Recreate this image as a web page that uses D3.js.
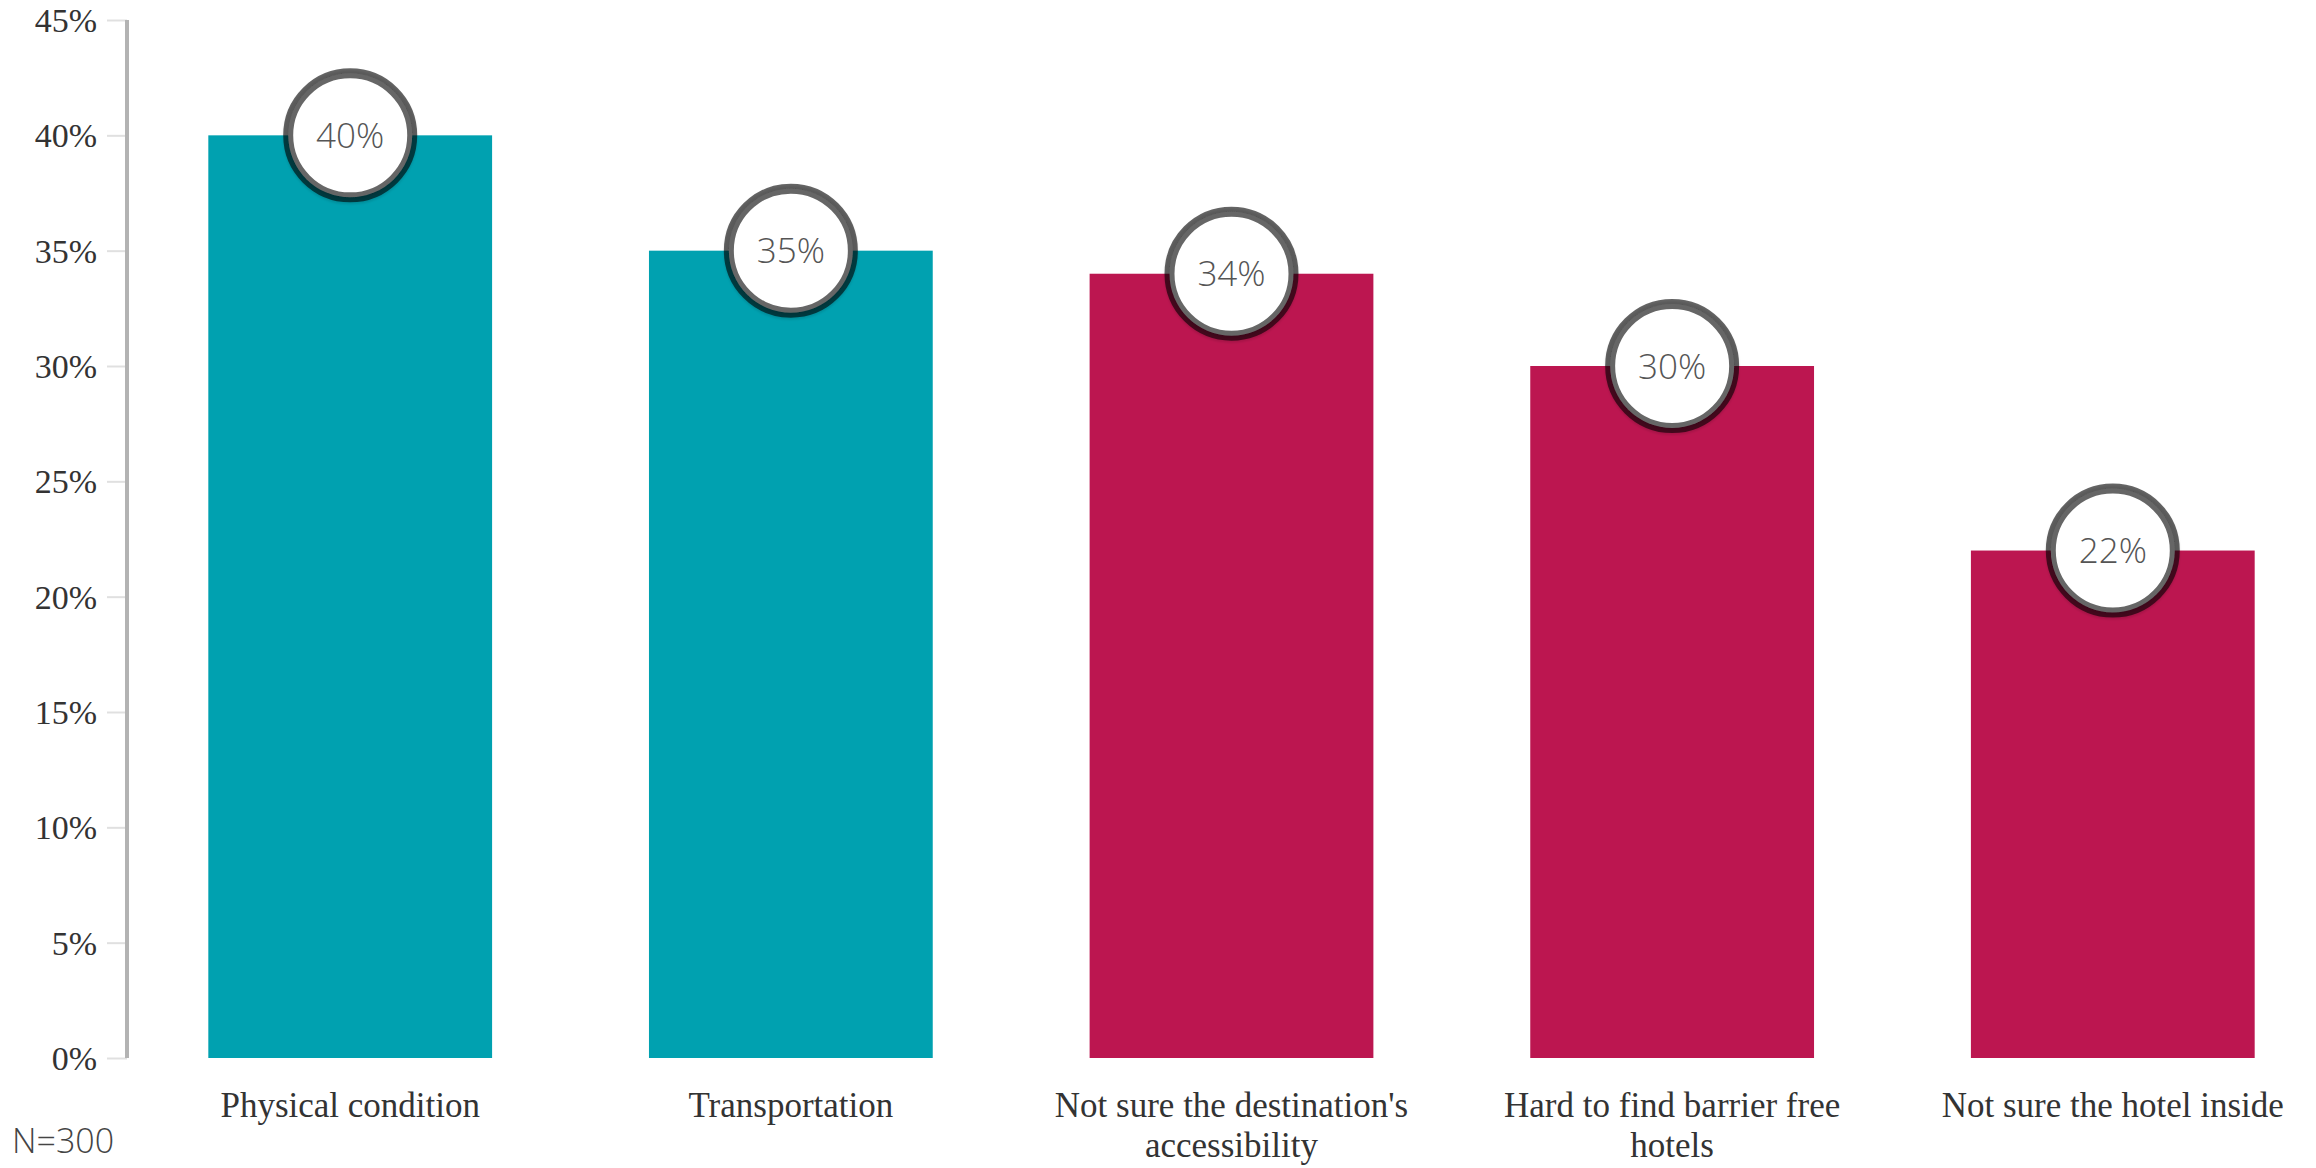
<!DOCTYPE html>
<html>
<head>
<meta charset="utf-8">
<script src="https://cdn.jsdelivr.net/npm/d3@7"></script>
<style>
  html, body { margin: 0; padding: 0; background: #fff; }
  svg { display: block; }
</style>
</head>
<body>
<svg id="chart" width="2316" height="1168"></svg>
<script>
const categories = [
  ["Physical condition"],
  ["Transportation"],
  ["Not sure the destination's", "accessibility"],
  ["Hard to find barrier free", "hotels"],
  ["Not sure the hotel inside"]
];
const values = [40, 35, 34, 30, 22];
const barColors = ["#00a1b0", "#00a1b0", "#bc1650", "#bc1650", "#bc1650"];
const yTicks = [0, 5, 10, 15, 20, 25, 30, 35, 40, 45];
const note = "N=300";

const svg = d3.select("#chart");
const plotTop = 20, plotBottom = 1058, axisX = 127;

const y = d3.scaleLinear().domain([0, 45]).range([plotBottom, plotTop]);
const x = d3.scaleBand()
  .domain(d3.range(values.length))
  .range([129, 2334])
  .paddingInner(0.356)
  .paddingOuter(0.18);

// y axis
const yAxis = d3.axisLeft(y).tickValues(yTicks).tickFormat(d => d + "%").tickSize(20).tickPadding(10);
const ga = svg.append("g").attr("transform", `translate(${axisX},0)`).call(yAxis);
ga.select(".domain").remove();
ga.selectAll(".tick line").attr("stroke", "#e0e0e0").attr("stroke-width", 2);
ga.selectAll(".tick text")
  .attr("font-family", "'Liberation Serif', 'Times New Roman', serif")
  .attr("font-size", 34)
  .attr("fill", "#333")
  .attr("dy", "0.34em");
svg.append("line")
  .attr("x1", axisX).attr("x2", axisX)
  .attr("y1", y(45)).attr("y2", y(0))
  .attr("stroke", "#b3b3b3").attr("stroke-width", 4);

// bars
svg.append("g").selectAll("rect").data(values).join("rect")
  .attr("x", (d, i) => x(i))
  .attr("y", d => y(d))
  .attr("width", x.bandwidth())
  .attr("height", d => y(0) - y(d))
  .attr("fill", (d, i) => barColors[i]);

// bubbles
const defs = svg.append("defs");
const f = defs.append("filter").attr("id", "sh").attr("x", "-30%").attr("y", "-30%").attr("width", "160%").attr("height", "160%");
f.append("feDropShadow").attr("dx", 0).attr("dy", 2).attr("stdDeviation", 1).attr("flood-color", "#000").attr("flood-opacity", 0.2);

const bub = svg.append("g").selectAll("g").data(values).join("g")
  .attr("transform", (d, i) => `translate(${x(i) + x.bandwidth() / 2},${y(d)})`);
bub.append("circle")
  .attr("r", 62)
  .attr("fill", "#fff")
  .attr("stroke", "rgba(0,0,0,0.6)")
  .attr("stroke-width", 10)
  .attr("filter", "url(#sh)");
bub.append("text")
  .attr("text-anchor", "middle")
  .attr("dy", "0.36em")
  .attr("font-family", "'Open Sans', Lato, sans-serif")
  .attr("font-weight", 300)
  .attr("font-size", 35)
  .attr("fill", "#555")
  .text(d => d + "%");

// x labels
const lab = svg.append("g").selectAll("text").data(categories).join("text")
  .attr("x", (d, i) => x(i) + x.bandwidth() / 2)
  .attr("y", 1117)
  .attr("text-anchor", "middle")
  .attr("font-family", "'Liberation Serif', 'Times New Roman', serif")
  .attr("font-size", 35)
  .attr("fill", "#333");
lab.each(function(d, i) {
  const t = d3.select(this);
  d.forEach((line, j) => {
    t.append("tspan")
      .attr("x", x(i) + x.bandwidth() / 2)
      .attr("dy", j === 0 ? 0 : 40)
      .text(line);
  });
});

// note
svg.append("text")
  .attr("x", 12).attr("y", 1153)
  .attr("font-family", "'Open Sans', Lato, sans-serif")
  .attr("font-weight", 300)
  .attr("font-size", 34)
  .attr("fill", "#444")
  .text(note);
</script>
</body>
</html>
